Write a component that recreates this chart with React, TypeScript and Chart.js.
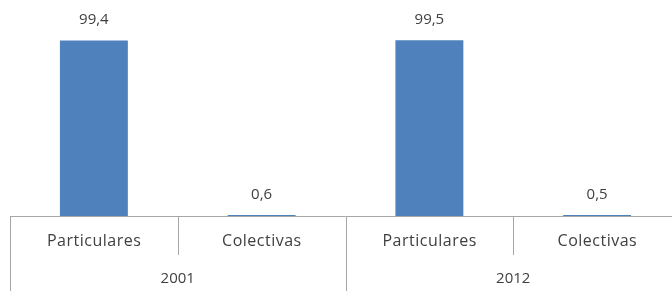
import React, { useEffect, useRef } from "react";
import { Chart, registerables } from "chart.js";

Chart.register(...registerables);

const categories = ["Particulares", "Colectivas", "Particulares", "Colectivas"];
const groups = ["2001", "2012"];
const groupSize = 2;
const values = [99.4, 0.6, 99.5, 0.5];
const valueLabels = ["99,4", "0,6", "99,5", "0,5"];

const FONT = "'Open Sans', sans-serif";
const TEXT = "#404040";
const LINE = "#a6a6a6";

const multiLevelAxis = {
  id: "multiLevelAxis",
  afterDraw(chart: any) {
    const { ctx, chartArea } = chart;
    const x = chart.scales.x;
    const bottom = chartArea.bottom;
    const n = categories.length;
    const step = x.getPixelForValue(1) - x.getPixelForValue(0);
    ctx.save();
    ctx.strokeStyle = LINE;
    ctx.lineWidth = 1;
    ctx.beginPath();
    ctx.moveTo(chartArea.left, Math.round(bottom) + 0.5);
    ctx.lineTo(chartArea.right, Math.round(bottom) + 0.5);
    ctx.stroke();
    for (let i = 0; i <= n; i++) {
      const px = Math.round(x.getPixelForValue(i) - step / 2) + 0.5;
      const isGroup = i % groupSize === 0;
      ctx.beginPath();
      ctx.moveTo(px, bottom);
      ctx.lineTo(px, isGroup ? bottom + 75 : bottom + 39);
      ctx.stroke();
    }
    ctx.fillStyle = TEXT;
    ctx.textAlign = "center";
    ctx.textBaseline = "middle";
    ctx.font = `16px ${FONT}`;
    (ctx as any).letterSpacing = "0.5px";
    categories.forEach((c, i) => {
      ctx.fillText(c, x.getPixelForValue(i) + 0.25, bottom + 25);
    });
    (ctx as any).letterSpacing = "0px";
    ctx.font = `15px ${FONT}`;
    groups.forEach((g, gi) => {
      const a = x.getPixelForValue(gi * groupSize);
      const b = x.getPixelForValue(gi * groupSize + groupSize - 1);
      ctx.fillText(g, (a + b) / 2, bottom + 63);
    });
    const meta = chart.getDatasetMeta(0);
    ctx.textBaseline = "alphabetic";
    meta.data.forEach((bar: any, i: number) => {
      ctx.fillText(valueLabels[i], bar.x, bar.y - 16);
    });
    ctx.restore();
  },
};

export default function App() {
  const ref = useRef<HTMLCanvasElement>(null);
  useEffect(() => {
    const chart = new Chart(ref.current!, {
      type: "bar",
      data: {
        labels: categories,
        datasets: [
          {
            data: values,
            backgroundColor: "#4f81bd",
            borderWidth: 0,
            categoryPercentage: 1,
            barPercentage: 0.405,
          },
        ],
      },
      options: {
        responsive: false,
        animation: false,
        layout: { padding: { left: 10, right: 9, top: 4, bottom: 75 } },
        plugins: { legend: { display: false }, tooltip: { enabled: false } },
        scales: {
          x: { display: false },
          y: { display: false, min: 0, max: 120 },
        },
      },
      plugins: [multiLevelAxis],
    });
    return () => chart.destroy();
  }, []);
  return (
    <div style={{ position: "fixed", left: 0, top: 0, width: 672, height: 291, overflow: "hidden", background: "#fff" }}>
      <canvas ref={ref} width={690} height={291} style={{ display: "block" }} />
    </div>
  );
}
